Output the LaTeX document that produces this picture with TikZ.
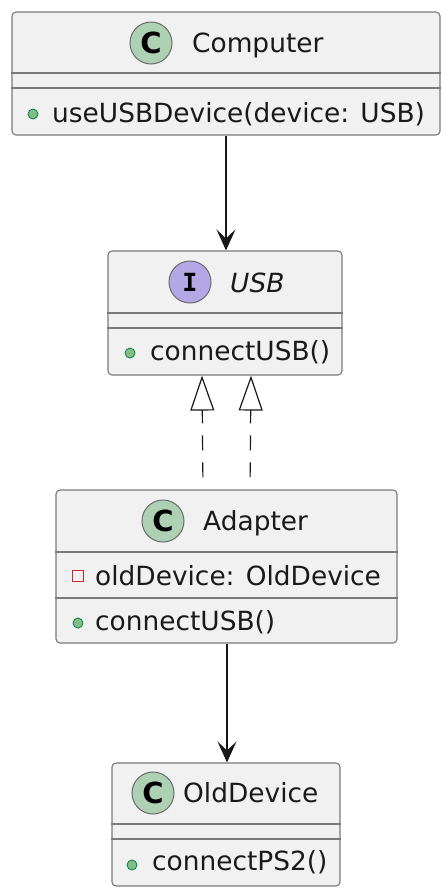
\documentclass[tikz,border=0pt]{standalone}
\usepackage{fontspec}
\setmainfont{DejaVu Sans}
\newfontfamily\iconmono{DejaVu Sans Mono}
\usetikzlibrary{arrows.meta}
\definecolor{boxfill}{HTML}{F1F1F1}
\definecolor{boxline}{HTML}{7A7A7A}
\definecolor{classicon}{HTML}{ADD1B2}
\definecolor{ifaceicon}{HTML}{B4A7E5}
\definecolor{iconline}{HTML}{6B6B6B}
\definecolor{pubfill}{HTML}{84BE84}
\definecolor{publine}{HTML}{038048}
\definecolor{privline}{HTML}{C82930}
\definecolor{arrowcol}{HTML}{181818}
\definecolor{textcol}{HTML}{1A1A1A}
\tikzset{
  classbox/.style={draw=boxline, fill=boxfill, line width=1.1pt, rounded corners=4pt, inner sep=0pt, minimum width=#1},
  sepline/.style={draw=boxline, line width=1.1pt},
  label/.style={anchor=base west, inner sep=0pt, text=textcol, font=\fontsize{26.4}{30}\selectfont},
  cicon/.style={circle, draw=iconline, line width=1pt, fill=classicon, minimum size=42pt, inner sep=0pt, font=\fontsize{29}{29}\selectfont\bfseries},
  iicon/.style={circle, draw=iconline, line width=1pt, fill=ifaceicon, minimum size=42pt, inner sep=0pt, font=\fontsize{25}{25}\selectfont\iconmono\bfseries},
  pubdot/.style={circle, draw=publine, fill=pubfill, line width=0.8pt, minimum size=10pt, inner sep=0pt},
  privsq/.style={rectangle, draw=privline, line width=1pt, minimum size=11pt, inner sep=0pt},
  assoc/.style={draw=arrowcol, line width=1.2pt, -{Stealth[length=21pt,width=19pt,inset=9pt]}},
  realize/.style={draw=arrowcol, line width=1.2pt, dash pattern=on 15pt off 12pt, dash phase=15pt, -{Triangle[open, length=35pt, width=24pt, line width=1.2pt]}}
}
\begin{document}
\begin{tikzpicture}[x=1pt,y=-1pt]
\useasboundingbox (0,0) rectangle (445,892);
% Computer
\node[classbox=428pt, minimum height=123pt] (comp) at (226,73.5) {};
\draw[sepline] (comp.west |- 0,73) -- (comp.east |- 0,73);
\draw[sepline] (comp.west |- 0,88) -- (comp.east |- 0,88);
\node[cicon] (compicon) at (151,43) {C};
\node[label] (comptitle) at (192,52) {Computer};
\node[pubdot] (compdot) at (33,114) {};
\node[label] (compm) at (52,122) {useUSBDevice(device: USB)};
% USB
\node[classbox=234pt, minimum height=124pt] (usb) at (225,313) {};
\draw[sepline] (usb.west |- 0,313) -- (usb.east |- 0,313);
\draw[sepline] (usb.west |- 0,328) -- (usb.east |- 0,328);
\node[iicon] (usbicon) at (190,282) {I};
\node[label] (usbtitle) at (230,292) {\itshape USB};
\node[pubdot] (usbdot) at (130,353) {};
\node[label] (usbm) at (150,360) {connectUSB()};
% Adapter
\node[classbox=341pt, minimum height=153pt] (adapt) at (226.5,566.5) {};
\draw[sepline] (adapt.west |- 0,552) -- (adapt.east |- 0,552);
\draw[sepline] (adapt.west |- 0,598) -- (adapt.east |- 0,598);
\node[cicon] (adapticon) at (163,521) {C};
\node[label] (adapttitle) at (203,530) {Adapter};
\node[privsq] (adaptsq) at (78,576) {};
\node[label] (adaptf) at (95,585) {oldDevice: OldDevice};
\node[pubdot] (adaptdot) at (78,623) {};
\node[label] (adaptm) at (95,630) {connectUSB()};
% OldDevice
\node[classbox=228pt, minimum height=123pt] (old) at (226,824.5) {};
\draw[sepline] (old.west |- 0,824) -- (old.east |- 0,824);
\draw[sepline] (old.west |- 0,839) -- (old.east |- 0,839);
\node[cicon] (oldicon) at (153,793) {C};
\node[label] (oldtitle) at (183,802) {OldDevice};
\node[pubdot] (olddot) at (132,865) {};
\node[label] (oldm) at (152,870) {connectPS2()};
% connectors
\draw[assoc] (comp.south) -- (comp.south |- usb.north);
\draw[realize] ([xshift=-23.5pt]adapt.north) -- ([xshift=-23pt]usb.south);
\draw[realize] ([xshift=23.5pt]adapt.north) -- ([xshift=26pt]usb.south);
\draw[assoc] ([xshift=0.5pt]adapt.south) -- ([xshift=0.5pt]adapt.south |- old.north);
\end{tikzpicture}
\end{document}
